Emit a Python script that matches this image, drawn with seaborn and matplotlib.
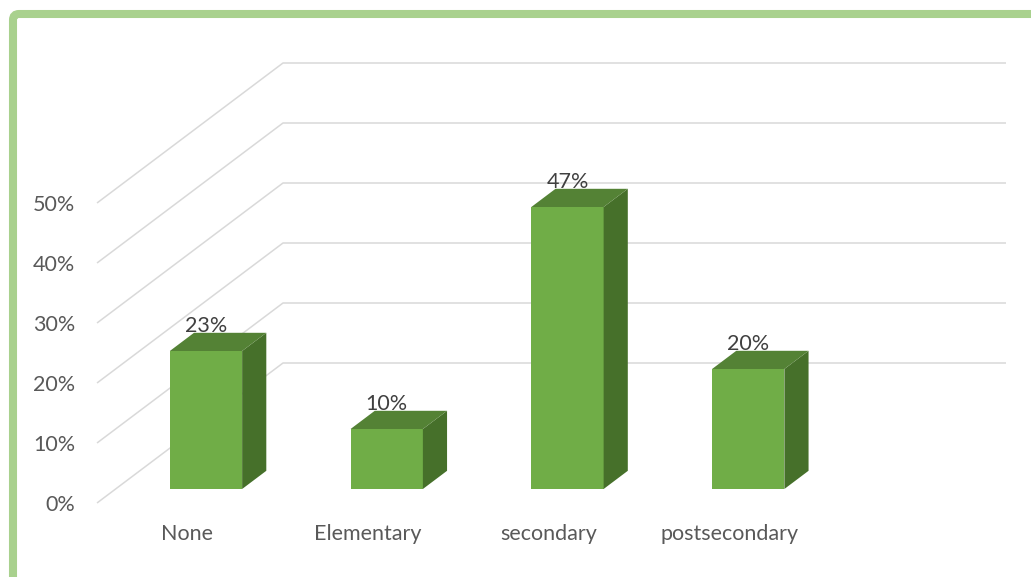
import matplotlib
matplotlib.use("Agg")
import matplotlib.pyplot as plt
from matplotlib.patches import Polygon, FancyBboxPatch
from matplotlib.transforms import IdentityTransform
import seaborn as sns

# Share of respondents by education level
categories = ["None", "Elementary", "secondary", "postsecondary"]
shares = [23, 10, 47, 20]
tick_values = [0, 10, 20, 30, 40, 50]
tick_labels = ["0%", "10%", "20%", "30%", "40%", "50%"]

FRONT = "#70AD47"
TOP = "#548235"
SIDE = "#46702A"
GRID = "#D9D9D9"
FRAME = "#A9D18E"
AXIS_TXT = "#595959"
LABEL_TXT = "#404040"
FONT_SIZE = 15.5

W, H = 1031, 577
sns.set_theme(style="white")
plt.rcParams["font.family"] = ["Lato", "DejaVu Sans"]

fig = plt.figure(figsize=(W / 100, H / 100), dpi=100)
fig.patch.set_facecolor("white")

# front plane of the 3-D box, in pixels
left_px, right_px, floor_px, top_px = 97, 820, 503, 203
ax = fig.add_axes([left_px / W, (H - floor_px) / H,
                   (right_px - left_px) / W, (floor_px - top_px) / H])
ax.set_facecolor("none")

# oblique projection: full floor depth shifts 186 px right and 140 px up
px_per_cat = (right_px - left_px) / len(categories)
px_per_pct = (floor_px - top_px) / 50
DX = 186 / px_per_cat
DY = 140 / px_per_pct
BAR_FRONT = 0.10   # depth of the bars' front face
BAR_DEPTH = 0.13   # depth of the bars themselves

sns.barplot(x=categories, y=shares, width=0.4, color=FRONT, saturation=1,
            linewidth=0, ax=ax, zorder=3)

dx, dy = DX * BAR_DEPTH, DY * BAR_DEPTH
for patch, value in zip(ax.patches, shares):
    patch.set_x(patch.get_x() + DX * BAR_FRONT)
    patch.set_y(patch.get_y() + DY * BAR_FRONT)
    x0 = patch.get_x()
    x1 = x0 + patch.get_width()
    y0 = patch.get_y()
    y1 = y0 + patch.get_height()
    side = Polygon([(x1, y0), (x1 + dx, y0 + dy), (x1 + dx, y1 + dy), (x1, y1)],
                   closed=True, facecolor=SIDE, edgecolor="none", zorder=3,
                   clip_on=False)
    top = Polygon([(x0, y1), (x1, y1), (x1 + dx, y1 + dy), (x0 + dx, y1 + dy)],
                  closed=True, facecolor=TOP, edgecolor="none", zorder=3,
                  clip_on=False)
    ax.add_patch(side)
    ax.add_patch(top)
    ax.annotate(f"{value}%", ((x0 + x1) / 2, y1), xytext=(0, 25),
                textcoords="offset pixels", ha="center", va="center",
                fontsize=FONT_SIZE, color=LABEL_TXT, zorder=5,
                annotation_clip=False)

# side-wall and back-wall gridlines
x_min, x_max = -0.5, len(categories) - 0.5
for h in tick_values:
    ax.plot([x_min, x_min + DX, x_max + DX], [h, h + DY, h + DY],
            color=GRID, lw=1.1, clip_on=False, zorder=1,
            solid_capstyle="butt")

ax.set_xlim(x_min, x_max)
ax.set_ylim(0, 50)
ax.set_yticks(tick_values, tick_labels)
ax.set_xticks(range(len(categories)), categories)
ax.set_xlabel("")
ax.set_ylabel("")
ax.tick_params(axis="y", length=0, pad=15.5, labelsize=FONT_SIZE,
               labelcolor=AXIS_TXT)
ax.tick_params(axis="x", length=0, pad=15, labelsize=FONT_SIZE,
               labelcolor=AXIS_TXT)
ax.grid(False)
for s in ax.spines.values():
    s.set_visible(False)

# green rounded frame around the chart area
frame = FancyBboxPatch((13, -30), 1060, H - 14 + 30,
                       boxstyle="round,pad=0,rounding_size=6",
                       transform=IdentityTransform(), facecolor="none",
                       edgecolor=FRAME, linewidth=5.8, zorder=10)
fig.patches.append(frame)

fig.savefig("out.png", dpi=100)
